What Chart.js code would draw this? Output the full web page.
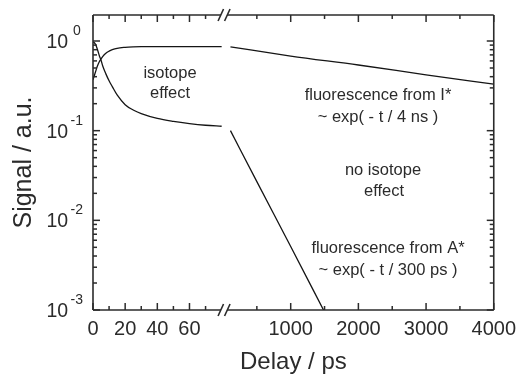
<!DOCTYPE html>
<html>
<head>
<meta charset="utf-8">
<script src="https://cdn.jsdelivr.net/npm/chart.js@4.4.1/dist/chart.umd.min.js"></script>
<style>
    body { margin: 0; background: #fff; }
    #contenedor { width: 523px; height: 375px; }
</style>
</head>
<body>
<div id="contenedor"><canvas id="grafica" width="523" height="375"></canvas></div>
<script>
// Datos (tiempo en ps, señal en u.a.)
// Tramo corto (0 - 80 ps) y tramo largo (110 - 4000 ps)
var tCortoI = [0, 1, 2, 3, 4, 5, 6, 8, 10, 12, 15, 20, 25, 30, 40, 50, 60, 70, 80];
var senalCortoI = [0.37, 0.42, 0.48, 0.54, 0.59, 0.63, 0.67, 0.73, 0.77, 0.80, 0.83, 0.85, 0.86, 0.865, 0.865, 0.865, 0.865, 0.865, 0.865];
var tLargoI = [110, 1000, 2000, 3000, 4000];
var senalLargoI = [0.86, 0.68, 0.54, 0.42, 0.33];

var tCortoA = [0, 1, 2, 3, 4, 5, 6, 8, 10, 12, 15, 20, 25, 30, 40, 50, 60, 70, 80];
var senalCortoA = [0.97, 0.95, 0.88, 0.78, 0.68, 0.61, 0.53, 0.43, 0.36, 0.31, 0.25, 0.195, 0.17, 0.155, 0.137, 0.127, 0.12, 0.115, 0.112];
var tLargoA = [110, 500, 1000, 1500];
var senalLargoA = [0.10, 0.027, 0.0051, 0.00095];

var ticksX = [0, 20, 40, 60, 1000, 2000, 3000, 4000];
var ticksXMenores = [10, 30, 50, 70, 500, 1500, 2500, 3500];
var decadasY = [-3, -2, -1, 0];

// eje x cortado
var finIzq = 80;
var inicioDer = 110;
var finDer = 4000;
var fracIzq = 0.321;
var fracHueco = 0.022;

var fuente = "'Liberation Sans', Arial, sans-serif";
var colorTexto = '#2b2b2b';

class EscalaCortada extends Chart.LinearScale
{
    getPixelForValue(valor)
    {
        var dec;
        if (valor <= finIzq)
        {
            dec = valor / finIzq * fracIzq;
        }
        else
        {
            dec = fracIzq + fracHueco + (valor - inicioDer) / (finDer - inicioDer) * (1 - fracIzq - fracHueco);
        }
        return this.getPixelForDecimal(dec);
    }

    getValueForPixel(pixel)
    {
        var dec = this.getDecimalForPixel(pixel);
        if (dec <= fracIzq)
        {
            return dec / fracIzq * finIzq;
        }
        return inicioDer + (dec - fracIzq - fracHueco) / (1 - fracIzq - fracHueco) * (finDer - inicioDer);
    }
}
EscalaCortada.id = 'cortada';
EscalaCortada.defaults = Chart.LinearScale.defaults;
Chart.register(EscalaCortada);

function puntos(t, s)
{
    return t.map(function(v, i) { return { x: v, y: s[i] }; });
}

function serie(t, s)
{
    return {
        data: puntos(t, s),
        borderColor: '#151515',
        borderWidth: 1.3,
        pointRadius: 0,
        fill: false,
        cubicInterpolationMode: 'monotone'
    };
}

var notas = [
    { texto: 'isotope', x: 170, y: 73 },
    { texto: 'effect', x: 170, y: 93 },
    { texto: 'fluorescence from I*', x: 378, y: 95 },
    { texto: '~ exp( - t / 4 ns )', x: 378, y: 117 },
    { texto: 'no isotope', x: 383, y: 170 },
    { texto: 'effect', x: 384, y: 191 },
    { texto: 'fluorescence from A*', x: 388, y: 248 },
    { texto: '~ exp( - t / 300 ps )', x: 388, y: 270 }
];

function linea(ctx, x1, y1, x2, y2)
{
    ctx.beginPath();
    ctx.moveTo(x1, y1);
    ctx.lineTo(x2, y2);
    ctx.stroke();
}

var marco = {
    id: 'marco',
    afterDraw: function(chart)
    {
        var ctx = chart.ctx;
        var a = chart.chartArea;
        var ex = chart.scales.x;
        var ey = chart.scales.y;
        var xb = ex.getPixelForDecimal(fracIzq + fracHueco / 2) - 2;

        ctx.save();
        ctx.strokeStyle = '#2b2b2b';
        ctx.lineWidth = 1.6;
        ctx.lineCap = 'butt';

        // marco con el corte
        linea(ctx, a.left, a.top, a.left, a.bottom);
        linea(ctx, a.right, a.top, a.right, a.bottom);
        [a.top, a.bottom].forEach(function(y)
        {
            linea(ctx, a.left, y, xb - 3, y);
            linea(ctx, xb + 3, y, a.right, y);
            linea(ctx, xb - 6, y + 6, xb - 0.5, y - 6);
            linea(ctx, xb + 0.5, y + 6, xb + 6, y - 6);
        });

        // ticks hacia adentro
        ctx.lineWidth = 1.5;
        ticksX.forEach(function(v)
        {
            var px = ex.getPixelForValue(v);
            linea(ctx, px, a.bottom, px, a.bottom - 7);
            linea(ctx, px, a.top, px, a.top + 7);
        });
        ticksXMenores.forEach(function(v)
        {
            var px = ex.getPixelForValue(v);
            linea(ctx, px, a.bottom, px, a.bottom - 4);
            linea(ctx, px, a.top, px, a.top + 4);
        });
        decadasY.forEach(function(d)
        {
            for (var m = 1; m <= 9; m++)
            {
                var val = m * Math.pow(10, d);
                if (val > ey.max) break;
                var py = ey.getPixelForValue(val);
                var largo = (m == 1) ? 7 : 4;
                linea(ctx, a.left, py, a.left + largo, py);
                linea(ctx, a.right, py, a.right - largo, py);
            }
        });

        // etiquetas del eje y (10 con exponente)
        ctx.fillStyle = colorTexto;
        ctx.textBaseline = 'middle';
        decadasY.forEach(function(d)
        {
            var py = ey.getPixelForValue(Math.pow(10, d));
            ctx.textAlign = 'left';
            ctx.font = '19.5px ' + fuente;
            ctx.fillText('10', 46.5, py + 1.5);
            ctx.font = '14px ' + fuente;
            ctx.fillText(d == 0 ? '0' : '-' + Math.abs(d), d == 0 ? 73 : 70.5, py - 10);
        });

        // anotaciones
        ctx.font = '16.5px ' + fuente;
        ctx.textAlign = 'center';
        notas.forEach(function(n)
        {
            ctx.fillText(n.texto, n.x, n.y);
        });
        ctx.restore();
    }
};

var chart = new Chart(document.getElementById('grafica').getContext('2d'), {
    type: 'line',
    data: {
        datasets: [
            serie(tCortoI, senalCortoI),
            serie(tLargoI, senalLargoI),
            serie(tCortoA, senalCortoA),
            serie(tLargoA, senalLargoA)
        ]
    },
    options: {
        responsive: false,
        animation: false,
        events: [],
        layout: {
            padding: { top: 15, right: 25, left: 0, bottom: 0 }
        },
        plugins: {
            legend: { display: false },
            tooltip: { enabled: false }
        },
        scales: {
            x: {
                type: 'cortada',
                min: 0,
                max: 4000,
                afterBuildTicks: function(escala)
                {
                    escala.ticks = ticksX.map(function(v) { return { value: v }; });
                },
                afterFit: function(escala)
                {
                    escala.height = 65;
                },
                grid: { display: false, drawTicks: false },
                border: { display: false },
                ticks: {
                    autoSkip: false,
                    maxRotation: 0,
                    padding: 7,
                    color: colorTexto,
                    font: { family: fuente, size: 20 },
                    callback: function(valor) { return String(valor); }
                },
                title: {
                    display: true,
                    text: 'Delay / ps',
                    color: colorTexto,
                    font: { family: fuente, size: 24, lineHeight: 1 },
                    padding: { top: 0, bottom: 1 }
                }
            },
            y: {
                type: 'logarithmic',
                min: 0.001,
                max: 1.95,
                afterFit: function(escala)
                {
                    escala.width = 93;
                },
                grid: { display: false, drawTicks: false },
                border: { display: false },
                ticks: { display: false },
                title: {
                    display: true,
                    text: 'Signal / a.u.',
                    color: colorTexto,
                    font: { family: fuente, size: 25, lineHeight: 1.2 },
                    padding: { top: 9, bottom: 0 }
                }
            }
        }
    },
    plugins: [marco]
});
</script>
</body>
</html>
